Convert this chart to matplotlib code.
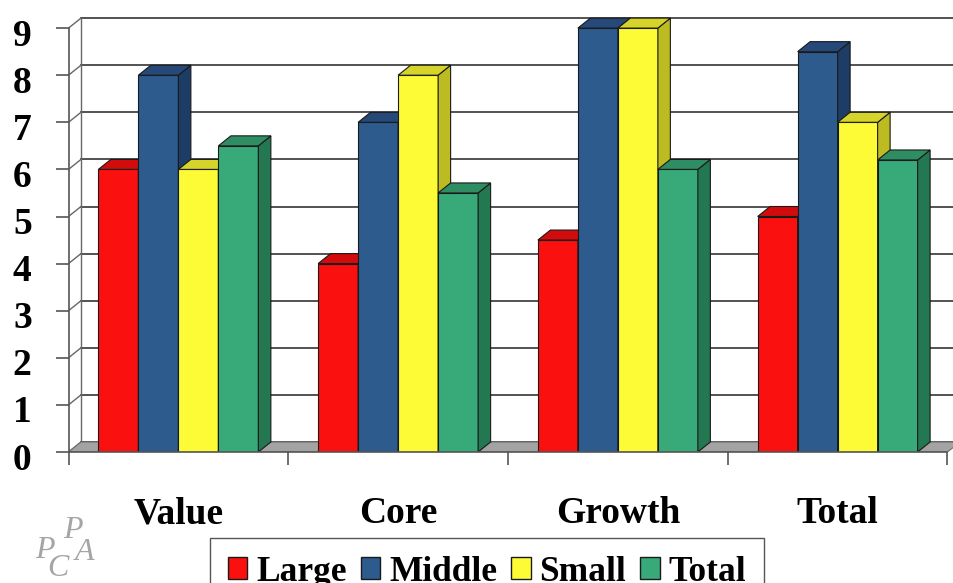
import matplotlib.pyplot as plt
from matplotlib.patches import Polygon
from matplotlib.transforms import ScaledTranslation

categories = ["Value", "Core", "Growth", "Total"]
series = ["Large", "Middle", "Small", "Total"]
large = [6.0, 4.0, 4.5, 5.0]
middle = [8.0, 7.0, 9.0, 8.5]
small = [6.0, 8.0, 9.0, 7.0]
total = [6.5, 5.5, 6.0, 6.2]
yticks = list(range(10))

# front / side / top shades for each series
front_colors = ["#fb1010", "#2d5b8d", "#fdfb36", "#38a978"]
side_colors = ["#b50a0a", "#1d3c66", "#bdbb22", "#237751"]
top_colors = ["#d20c0c", "#26497a", "#d6d42a", "#2e8d63"]

plt.rcParams["font.family"] = ["Liberation Serif", "DejaVu Serif"]

fig = plt.figure(figsize=(9.54, 5.83), dpi=100)
W, H = 954, 583
x0, y0 = 68.5, 452
ux, uy = 219.75, 47.1
ax = fig.add_axes([x0 / W, (H - y0) / H, (W - x0) / W, y0 / H])
ax.set_xlim(0, (W - x0) / ux)
ax.set_ylim(0, y0 / uy)

# depth of the 3-D box in data units
ddx, ddy = 12.5 / ux, 10 / uy
ncat = len(categories)

# back wall gridlines and left wall connectors
for k in yticks:
    ax.plot([ddx, ncat + ddx], [k + ddy, k + ddy], color="#444444", lw=1.3, zorder=1)
    ax.plot([0, ddx], [k, k + ddy], color="#666666", lw=1.0, zorder=1)
ax.plot([ddx, ddx], [ddy, yticks[-1] + ddy], color="#666666", lw=1.0, zorder=1)

# floor
floor = Polygon([(0, 0), (ncat, 0), (ncat + ddx, ddy), (ddx, ddy)],
                closed=True, facecolor="#a3a3a3", edgecolor="#707070", lw=0.8, zorder=2)
ax.add_patch(floor)

values = [large, middle, small, total]
bw = 0.182
start = 0.5 - bw * len(series) / 2
z = 3
for i in range(ncat):
    for j, vals in enumerate(values):
        x = i + start + j * bw
        h = vals[i]
        ax.bar(x, h, width=bw, align="edge", color=front_colors[j],
               edgecolor="#1a1a1a", lw=0.8, zorder=z)
        side = Polygon([(x + bw, 0), (x + bw + ddx, ddy), (x + bw + ddx, h + ddy), (x + bw, h)],
                       closed=True, facecolor=side_colors[j], edgecolor="#1a1a1a", lw=0.8, zorder=z)
        top = Polygon([(x, h), (x + bw, h), (x + bw + ddx, h + ddy), (x + ddx, h + ddy)],
                      closed=True, facecolor=top_colors[j], edgecolor="#1a1a1a", lw=0.8, zorder=z)
        ax.add_patch(side)
        ax.add_patch(top)
        z += 1

for s in ["top", "right"]:
    ax.spines[s].set_visible(False)
ax.spines["left"].set_bounds(0, yticks[-1])
ax.spines["bottom"].set_bounds(0, ncat)
for s in ["left", "bottom"]:
    ax.spines[s].set_color("#555555")
    ax.spines[s].set_linewidth(1.2)
    ax.spines[s].set_zorder(50)

ax.set_yticks(yticks)
ax.set_yticklabels([str(k) for k in yticks], fontsize=27, fontweight="bold")
ax.tick_params(axis="y", length=9.5, width=1.2, color="#555555", pad=17)
shift = ScaledTranslation(0, -4 / 100, fig.dpi_scale_trans)
for lab in ax.get_yticklabels():
    lab.set_transform(lab.get_transform() + shift)

ax.set_xticks(range(ncat + 1))
ax.set_xticklabels([])
ax.tick_params(axis="x", which="major", length=9, width=1.2, color="#555555")
ax.set_xticks([i + 0.5 for i in range(ncat)], minor=True)
ax.set_xticklabels(categories, minor=True, fontsize=27, fontweight="bold")
ax.tick_params(axis="x", which="minor", length=0, pad=32)

handles = [plt.Rectangle((0, 0), 1, 1, facecolor=c, edgecolor="#1a1a1a", lw=1)
           for c in front_colors]
leg = fig.legend(handles, series, loc="upper left", bbox_to_anchor=(210 / W, 1 - 538 / H),
                 ncol=4, prop={"weight": "bold", "size": 25.5},
                 frameon=True, fancybox=False, framealpha=1, edgecolor="#555555",
                 handlelength=0.55, handleheight=0.6, handletextpad=0.25,
                 columnspacing=0.4, borderpad=0.5, borderaxespad=0)
leg.get_frame().set_linewidth(1.0)

# small logo at lower left
logo = dict(color="#a5a5a5", fontsize=23, fontstyle="italic", ha="center", va="center")
fig.text(45 / W, 1 - 551 / H, "P", **logo)
fig.text(58 / W, 1 - 568 / H, "C", **logo)
fig.text(73 / W, 1 - 531 / H, "P", **logo)
fig.text(85 / W, 1 - 553 / H, "A", **logo)

fig.savefig("out.png", dpi=100)
